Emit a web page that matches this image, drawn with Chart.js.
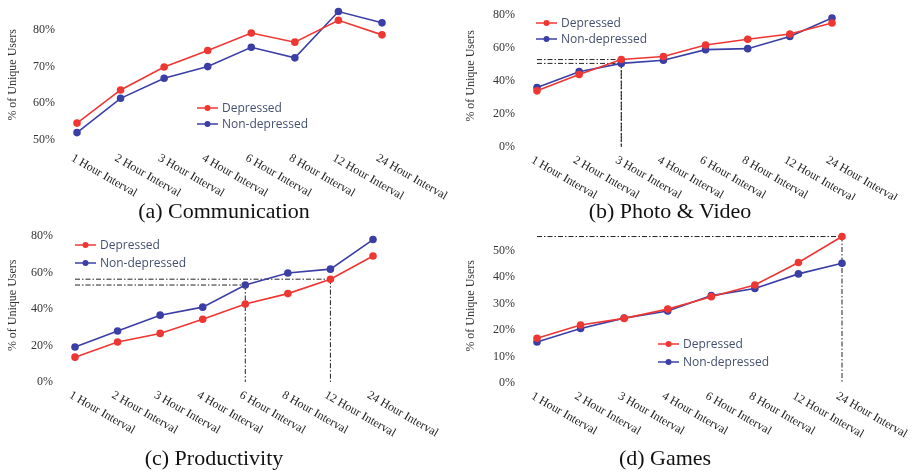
<!DOCTYPE html>
<html>
<head>
<meta charset="utf-8">
<script src="https://cdn.jsdelivr.net/npm/chart.js@4.4.0/dist/chart.umd.min.js"></script>
<style>
  body { margin: 0; background: #fff; }
  #wrap { position: relative; width: 916px; height: 474px; overflow: hidden; }
  canvas { position: absolute; }
  .cap { position: absolute; font-family: 'Liberation Serif', serif; font-size: 22px; color: #111;
         white-space: nowrap; transform: translate(-50%, -50%); }
</style>
</head>
<body>
<div id="wrap">
  <canvas id="commChart" style="left:0;top:0" width="458" height="200"></canvas>
  <canvas id="photoChart" style="left:458px;top:0" width="458" height="200"></canvas>
  <canvas id="prodChart" style="left:0;top:224px" width="458" height="250"></canvas>
  <canvas id="gamesChart" style="left:458px;top:224px" width="458" height="250"></canvas>
  <div class="cap" style="left:224px;top:211px">(a) Communication</div>
  <div class="cap" style="left:670px;top:211px">(b) Photo &amp; Video</div>
  <div class="cap" style="left:214px;top:458px">(c) Productivity</div>
  <div class="cap" style="left:665px;top:458px">(d) Games</div>
</div>
<script>
const intervals = ['1 Hour Interval', '2 Hour Interval', '3 Hour Interval', '4 Hour Interval',
  '6 Hour Interval', '8 Hour Interval', '12 Hour Interval', '24 Hour Interval'];
const seriesNames = ['Depressed', 'Non-depressed'];

const commDepressed = [54.5, 63.6, 69.9, 74.4, 79.2, 76.7, 82.7, 78.7];
const commNonDepressed = [51.9, 61.3, 66.8, 70.0, 75.3, 72.4, 85.1, 82.0];
const photoDepressed = [33.9, 43.8, 52.8, 54.7, 61.6, 65.1, 68.2, 74.9];
const photoNonDepressed = [35.9, 45.5, 50.5, 52.4, 58.8, 59.4, 66.7, 77.9];
const prodDepressed = [13.6, 21.9, 26.6, 34.4, 42.7, 48.4, 56.3, 69.0];
const prodNonDepressed = [19.2, 27.9, 36.6, 41.0, 53.1, 59.7, 61.8, 78.0];
const gamesDepressed = [16.9, 21.9, 24.4, 27.9, 32.6, 37.0, 45.5, 55.3];
const gamesNonDepressed = [15.5, 20.6, 24.5, 27.2, 33.0, 35.7, 41.2, 45.2];

const commTicks = [50, 60, 70, 80];
const photoTicks = [0, 20, 40, 60, 80];
const prodTicks = [0, 20, 40, 60, 80];
const gamesTicks = [0, 10, 20, 30, 40, 50];

// reference lines: [series index, category index]
const photoGuides = [[0, 2], [1, 2]];
const prodGuides = [[1, 4], [0, 6]];
const gamesGuides = [[0, 7]];

const RED = '#ee3733';
const BLUE = '#3b3fa5';

// slanted category labels (text runs down to the right)
const slantLabels = {
  id: 'slantLabels',
  afterDraw(chart) {
    const ctx = chart.ctx, xs = chart.scales.x, bottom = chart.chartArea.bottom;
    ctx.save();
    ctx.font = '12px "Liberation Serif"';
    ctx.fillStyle = '#222';
    ctx.textAlign = 'left';
    ctx.textBaseline = 'top';
    chart.data.labels.forEach((lab, i) => {
      ctx.save();
      ctx.translate(xs.getPixelForValue(i) - 2, bottom + 7);
      ctx.rotate(Math.PI / 6);
      ctx.fillText(lab, 0, 0);
      ctx.restore();
    });
    ctx.restore();
  }
};

const guideLines = {
  id: 'guideLines',
  beforeDatasetsDraw(chart, args, opts) {
    if (!opts.guides) return;
    const ctx = chart.ctx, xs = chart.scales.x, ys = chart.scales.y;
    ctx.save();
    ctx.strokeStyle = '#222';
    ctx.lineWidth = 1;
    ctx.setLineDash([5, 2, 1.5, 2]);
    opts.guides.forEach(g => {
      const v = chart.data.datasets[g[0]].data[g[1]];
      const x = xs.getPixelForValue(g[1]), y = ys.getPixelForValue(v);
      ctx.beginPath();
      ctx.moveTo(xs.getPixelForValue(0), y);
      ctx.lineTo(x, y);
      ctx.moveTo(x, y);
      ctx.lineTo(x, ys.getPixelForValue(ys.min));
      ctx.stroke();
    });
    ctx.restore();
  }
};

const seriesLegend = {
  id: 'seriesLegend',
  afterDraw(chart, args, opts) {
    const ctx = chart.ctx;
    ctx.save();
    ctx.font = '12px "Open Sans"';
    ctx.textBaseline = 'middle';
    chart.data.datasets.forEach((ds, i) => {
      const y = opts.y + i * opts.gap;
      ctx.strokeStyle = ds.borderColor;
      ctx.lineWidth = 1.5;
      ctx.beginPath();
      ctx.moveTo(opts.x, y);
      ctx.lineTo(opts.x + 21, y);
      ctx.stroke();
      ctx.fillStyle = ds.borderColor;
      ctx.beginPath();
      ctx.arc(opts.x + 10.5, y, 3, 0, Math.PI * 2);
      ctx.fill();
      ctx.fillStyle = '#44506e';
      ctx.fillText(ds.label, opts.x + 25, y + 1);
    });
    ctx.restore();
  }
};

function makeChart(id, dep, nonDep, yMin, yMax, ticks, guides, legend, pad, yWidth) {
  const mk = (label, data, color) => ({
    label: label, data: data, borderColor: color, backgroundColor: color,
    borderWidth: 1.6, pointRadius: 3, pointHoverRadius: 3, tension: 0
  });
  return new Chart(document.getElementById(id), {
    type: 'line',
    data: {
      labels: intervals,
      datasets: [mk(seriesNames[0], dep, RED), mk(seriesNames[1], nonDep, BLUE)]
    },
    options: {
      responsive: false,
      animation: false,
      layout: { padding: pad },
      scales: {
        x: { display: false },
        y: {
          min: yMin, max: yMax,
          grid: { display: false, drawTicks: false },
          border: { display: false },
          afterBuildTicks: s => { s.ticks = ticks.map(v => ({ value: v })); },
          afterFit: s => {
            s.width = yWidth;
            // labels may overhang the plot, don't let them shrink it
            s.paddingTop = 0;
            s.paddingBottom = 0;
          },
          ticks: {
            padding: 22,
            color: '#333',
            font: { family: 'Liberation Serif', size: 12 },
            callback: v => v + '%'
          },
          title: {
            display: true, text: '% of Unique Users', color: '#333',
            font: { family: 'Liberation Serif', size: 12 },
            padding: { top: 6, bottom: 0 }
          }
        }
      },
      plugins: {
        legend: { display: false },
        tooltip: { enabled: false },
        guideLines: { guides: guides },
        seriesLegend: legend
      }
    },
    plugins: [guideLines, slantLabels, seriesLegend]
  });
}

makeChart('commChart', commDepressed, commNonDepressed, 48.5, 87, commTicks, null,
  { x: 197, y: 108, gap: 16 }, { left: 0, top: 0, right: 76, bottom: 55 }, 77);
makeChart('photoChart', photoDepressed, photoNonDepressed, 0, 86, photoTicks, photoGuides,
  { x: 78, y: 23, gap: 16 }, { left: 0, top: 0, right: 84, bottom: 53 }, 79);
makeChart('prodChart', prodDepressed, prodNonDepressed, 0, 84, prodTicks, prodGuides,
  { x: 75, y: 21, gap: 18 }, { left: 0, top: 0, right: 85, bottom: 92 }, 75);
makeChart('gamesChart', gamesDepressed, gamesNonDepressed, 0, 58.3, gamesTicks, gamesGuides,
  { x: 200, y: 120, gap: 18 }, { left: 0, top: 0, right: 74, bottom: 91 }, 79);
</script>
</body>
</html>
